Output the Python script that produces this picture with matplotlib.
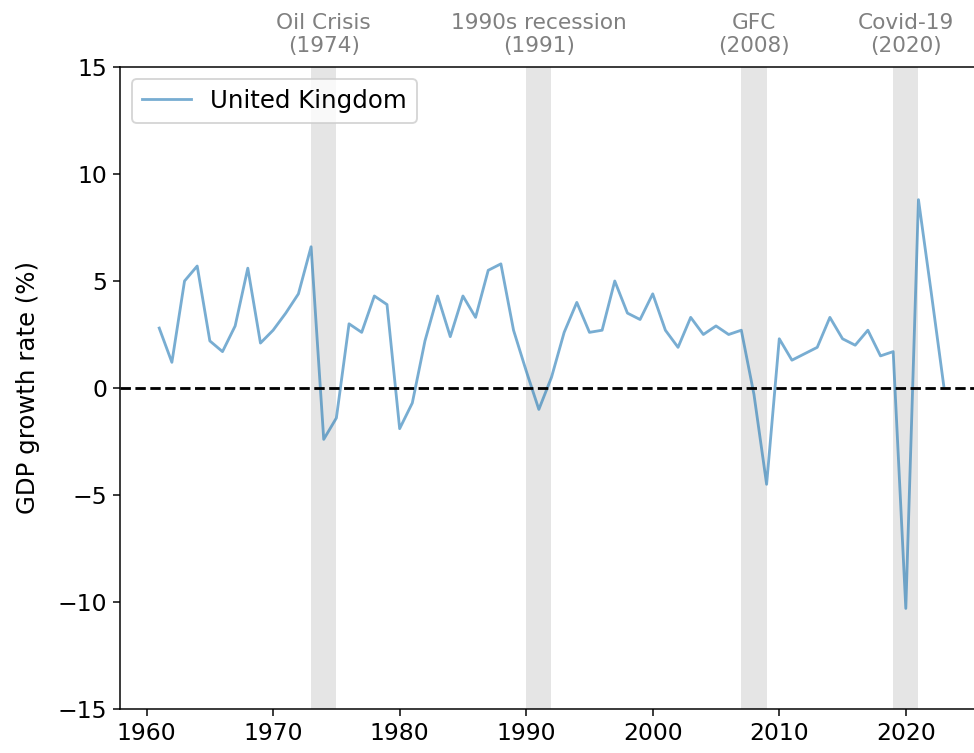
import matplotlib
matplotlib.use("Agg")
import matplotlib.pyplot as plt

years = list(range(1961, 2024))
gdp_growth = [2.8, 1.2, 5.0, 5.7, 2.2, 1.7, 2.9, 5.6, 2.1, 2.7, 3.5, 4.4, 6.6,
              -2.4, -1.4, 3.0, 2.6, 4.3, 3.9, -1.9, -0.7, 2.2, 4.3, 2.4, 4.3,
              3.3, 5.5, 5.8, 2.7, 0.8, -1.0, 0.5, 2.6, 4.0, 2.6, 2.7, 5.0,
              3.5, 3.2, 4.4, 2.7, 1.9, 3.3, 2.5, 2.9, 2.5, 2.7, -0.3, -4.5,
              2.3, 1.3, 1.6, 1.9, 3.3, 2.3, 2.0, 2.7, 1.5, 1.7, -10.3, 8.8,
              4.5, 0.1]

crisis_labels = ["Oil Crisis\n(1974)", "1990s recession\n(1991)", "GFC\n(2008)", "Covid-19\n(2020)"]
crisis_start = [1973, 1990, 2007, 2019]
crisis_end = [1975, 1992, 2009, 2021]

DPI = 135
fig = plt.figure(figsize=(974 / DPI, 753 / DPI), dpi=DPI)
ax = fig.add_axes([120 / 974, 44 / 753, 863 / 974, 642 / 753])

for lab, s, e in zip(crisis_labels, crisis_start, crisis_end):
    ax.axvspan(s, e, color="gray", alpha=0.2, lw=0)
    ax.text((s + e) / 2, 15.5, lab, ha="center", va="bottom", color="gray", fontsize=11.5)

ax.plot(years, gdp_growth, color="tab:blue", alpha=0.6, lw=1.5, label="United Kingdom")
ax.axhline(0, color="black", ls="--", lw=1.5)

ax.set_ylim(-15, 15)
ax.set_xlim(1957.9, 2026.1)
ax.set_yticks([-15, -10, -5, 0, 5, 10, 15])
ax.set_xticks([1960, 1970, 1980, 1990, 2000, 2010, 2020])
ax.tick_params(labelsize=12.5)
ax.set_ylabel("GDP growth rate (%)", fontsize=13, labelpad=9)
ax.legend(loc="upper left", fontsize=13)

fig.savefig("out.png", dpi=DPI)
